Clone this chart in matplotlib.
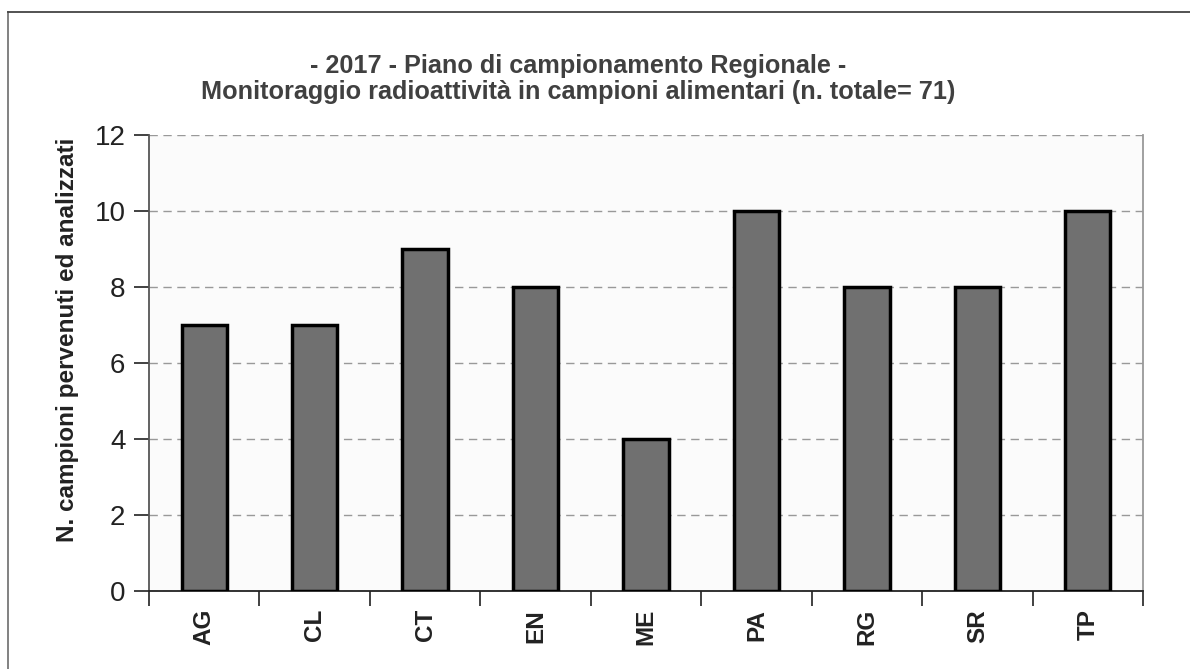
import matplotlib.pyplot as plt
from matplotlib.lines import Line2D
import numpy as np

plt.rcParams['font.family'] = ['Liberation Sans', 'DejaVu Sans']

# data
province = ['AG', 'CL', 'CT', 'EN', 'ME', 'PA', 'RG', 'SR', 'TP']
campioni = [7, 7, 9, 8, 4, 10, 8, 8, 10]
yticks = [0, 2, 4, 6, 8, 10, 12]

titolo = ("- 2017 - Piano di campionamento Regionale -\n"
          "Monitoraggio radioattività in campioni alimentari (n. totale= 71)")
ylab = "N. campioni pervenuti ed analizzati"

fig = plt.figure(figsize=(11.9, 6.69), dpi=100)
ax = fig.add_axes([149/1190, 1 - 591/669, (1143 - 149)/1190, (591 - 135)/669])
ax.set_facecolor('#fbfbfb')

x = np.arange(len(province))
ax.bar(x, campioni, width=0.41, color='#707070', edgecolor='black', linewidth=2.5, zorder=3)

ax.set_xlim(-0.5, len(province) - 0.5)
ax.set_ylim(0, 12)
ax.set_yticks(yticks)
ax.set_yticklabels([str(v) for v in yticks], fontsize=20, color='#222222')
ax.yaxis.grid(True, linestyle=(0, (6, 4)), color='#999999', linewidth=1, zorder=0)

# category ticks sit between bars, labels at bar centres
ax.set_xticks(np.arange(len(province) + 1) - 0.5)
ax.set_xticklabels([])
ax.set_xticks(x, minor=True)
ax.set_xticklabels(province, minor=True, rotation=90, fontsize=17.5, fontweight='bold', color='#222222')
ax.tick_params(axis='x', which='minor', length=0, pad=13)
ax.tick_params(axis='x', which='major', length=11, width=1.3, color='#333333')
ax.tick_params(axis='y', length=11, width=1.3, color='#333333', pad=6)

ax.spines['top'].set_visible(False)
ax.spines['left'].set_color('#555555')
ax.spines['left'].set_linewidth(1.3)
ax.spines['right'].set_color('#999999')
ax.spines['right'].set_linewidth(1.3)
ax.spines['bottom'].set_color('#222222')
ax.spines['bottom'].set_linewidth(1.3)

ax.set_ylabel(ylab, fontsize=17.5, fontweight='bold', color='#222222', va='center')
ax.yaxis.set_label_coords((68 - 149)/994, (591 - 340)/456)
fig.text(578/1190, 1 - 79/669, titolo, ha='center', va='center', fontsize=18.2,
         fontweight='bold', color='#404040', linespacing=1.15)

# outer frame (runs off the right and bottom edges)
fig.add_artist(Line2D([8/1190, 8/1190], [0, 1 - 12/669], transform=fig.transFigure, color='#777777', linewidth=1.3))
fig.add_artist(Line2D([8/1190, 1], [1 - 12/669, 1 - 12/669], transform=fig.transFigure, color='#444444', linewidth=1.3))

fig.savefig('out.png', dpi=100)
